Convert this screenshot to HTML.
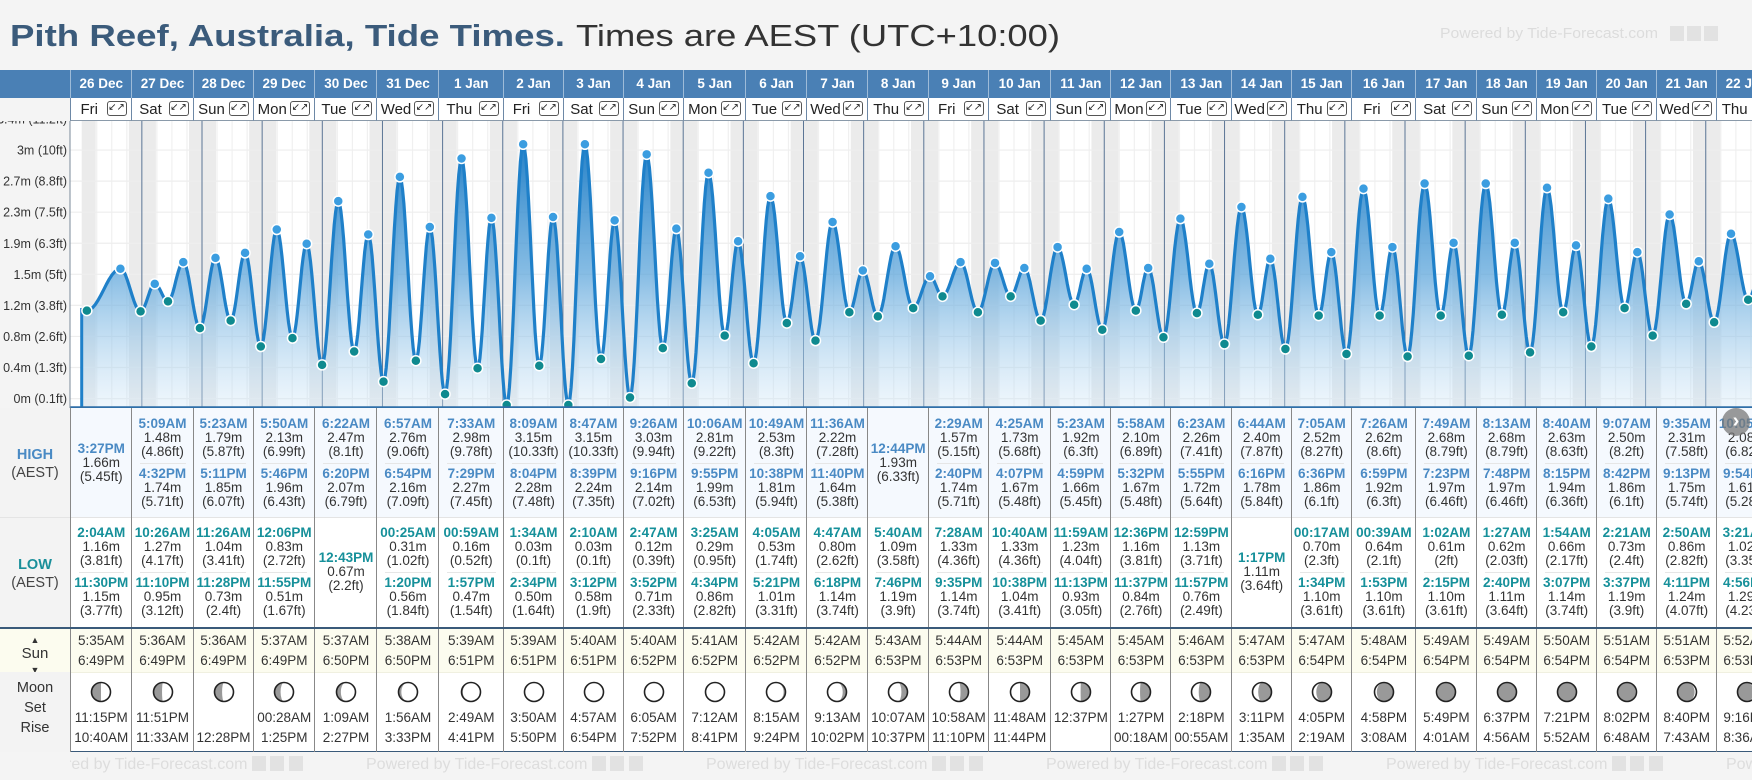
<!DOCTYPE html>
<html><head><meta charset="utf-8">
<style>
html,body{margin:0;padding:0;}
body{width:1752px;height:780px;overflow:hidden;background:#f4f4f4;font-family:"Liberation Sans",Arial,sans-serif;position:relative;}
.abs{position:absolute;}
.cell{position:absolute;box-sizing:border-box;text-align:center;overflow:hidden;}
.t{font-weight:bold;font-size:13.5px;line-height:14px;}
.v{font-size:13.5px;color:#333;line-height:14px;}
</style></head>
<body>
<svg id="top" class="abs" style="left:0;top:0" width="1752" height="780" xmlns="http://www.w3.org/2000/svg">
  <text x="10" y="46" font-size="31" font-weight="bold" fill="#3b5b7b" textLength="555" lengthAdjust="spacingAndGlyphs" font-family="Liberation Sans, sans-serif">Pith Reef, Australia, Tide Times.</text>
  <text x="576" y="46" font-size="31" fill="#333" textLength="484" lengthAdjust="spacingAndGlyphs" font-family="Liberation Sans, sans-serif">Times are AEST (UTC+10:00)</text>
  <g>
    <text x="1440" y="38" font-size="15" fill="#dcdcdc" textLength="218" lengthAdjust="spacingAndGlyphs" font-family="Liberation Sans, sans-serif">Powered by Tide-Forecast.com</text>
    <rect x="1670" y="26" width="14" height="15" fill="#e2e2e2"/><rect x="1687" y="26" width="14" height="15" fill="#e2e2e2"/><rect x="1704" y="26" width="14" height="15" fill="#e2e2e2"/>
  </g>
</svg>
<div id="root" style="position:absolute;left:0;top:0;width:1752px;height:780px;overflow:hidden"></div>
<script>
const dayLabels=["26 Dec","27 Dec","28 Dec","29 Dec","30 Dec","31 Dec","1 Jan","2 Jan","3 Jan","4 Jan","5 Jan","6 Jan","7 Jan","8 Jan","9 Jan","10 Jan","11 Jan","12 Jan","13 Jan","14 Jan","15 Jan","16 Jan","17 Jan","18 Jan","19 Jan","20 Jan","21 Jan","22 Jan"];
const weekdays=["Fri","Sat","Sun","Mon","Tue","Wed","Thu","Fri","Sat","Sun","Mon","Tue","Wed","Thu","Fri","Sat","Sun","Mon","Tue","Wed","Thu","Fri","Sat","Sun","Mon","Tue","Wed","Thu"];
const highTimes=[["3:27PM"],["5:09AM","4:32PM"],["5:23AM","5:11PM"],["5:50AM","5:46PM"],["6:22AM","6:20PM"],["6:57AM","6:54PM"],["7:33AM","7:29PM"],["8:09AM","8:04PM"],["8:47AM","8:39PM"],["9:26AM","9:16PM"],["10:06AM","9:55PM"],["10:49AM","10:38PM"],["11:36AM","11:40PM"],["12:44PM"],["2:29AM","2:40PM"],["4:25AM","4:07PM"],["5:23AM","4:59PM"],["5:58AM","5:32PM"],["6:23AM","5:55PM"],["6:44AM","6:16PM"],["7:05AM","6:36PM"],["7:26AM","6:59PM"],["7:49AM","7:23PM"],["8:13AM","7:48PM"],["8:40AM","8:15PM"],["9:07AM","8:42PM"],["9:35AM","9:13PM"],["10:05AM","9:54PM"]];
const highHeights=[[1.66],[1.48,1.74],[1.79,1.85],[2.13,1.96],[2.47,2.07],[2.76,2.16],[2.98,2.27],[3.15,2.28],[3.15,2.24],[3.03,2.14],[2.81,1.99],[2.53,1.81],[2.22,1.64],[1.93],[1.57,1.74],[1.73,1.67],[1.92,1.66],[2.10,1.67],[2.26,1.72],[2.40,1.78],[2.52,1.86],[2.62,1.92],[2.68,1.97],[2.68,1.97],[2.63,1.94],[2.50,1.86],[2.31,1.75],[2.08,1.61]];
const lowTimes=[["2:04AM","11:30PM"],["10:26AM","11:10PM"],["11:26AM","11:28PM"],["12:06PM","11:55PM"],["12:43PM"],["00:25AM","1:20PM"],["00:59AM","1:57PM"],["1:34AM","2:34PM"],["2:10AM","3:12PM"],["2:47AM","3:52PM"],["3:25AM","4:34PM"],["4:05AM","5:21PM"],["4:47AM","6:18PM"],["5:40AM","7:46PM"],["7:28AM","9:35PM"],["10:40AM","10:38PM"],["11:59AM","11:13PM"],["12:36PM","11:37PM"],["12:59PM","11:57PM"],["1:17PM"],["00:17AM","1:34PM"],["00:39AM","1:53PM"],["1:02AM","2:15PM"],["1:27AM","2:40PM"],["1:54AM","3:07PM"],["2:21AM","3:37PM"],["2:50AM","4:11PM"],["3:21AM","4:56PM"]];
const lowHeights=[[1.16,1.15],[1.27,0.95],[1.04,0.73],[0.83,0.51],[0.67],[0.31,0.56],[0.16,0.47],[0.03,0.50],[0.03,0.58],[0.12,0.71],[0.29,0.86],[0.53,1.01],[0.80,1.14],[1.09,1.19],[1.33,1.14],[1.33,1.04],[1.23,0.93],[1.16,0.84],[1.13,0.76],[1.11],[0.70,1.10],[0.64,1.10],[0.61,1.10],[0.62,1.11],[0.66,1.14],[0.73,1.19],[0.86,1.24],[1.02,1.29]];
const sunrise=["5:35AM","5:36AM","5:36AM","5:37AM","5:37AM","5:38AM","5:39AM","5:39AM","5:40AM","5:40AM","5:41AM","5:42AM","5:42AM","5:43AM","5:44AM","5:44AM","5:45AM","5:45AM","5:46AM","5:47AM","5:47AM","5:48AM","5:49AM","5:49AM","5:50AM","5:51AM","5:51AM","5:52AM"];
const sunset=["6:49PM","6:49PM","6:49PM","6:49PM","6:50PM","6:50PM","6:51PM","6:51PM","6:51PM","6:52PM","6:52PM","6:52PM","6:52PM","6:53PM","6:53PM","6:53PM","6:53PM","6:53PM","6:53PM","6:53PM","6:54PM","6:54PM","6:54PM","6:54PM","6:54PM","6:54PM","6:53PM","6:53PM"];
const moonSet=["11:15PM","11:51PM","","00:28AM","1:09AM","1:56AM","2:49AM","3:50AM","4:57AM","6:05AM","7:12AM","8:15AM","9:13AM","10:07AM","10:58AM","11:48AM","12:37PM","1:27PM","2:18PM","3:11PM","4:05PM","4:58PM","5:49PM","6:37PM","7:21PM","8:02PM","8:40PM","9:16PM"];
const moonRise=["10:40AM","11:33AM","12:28PM","1:25PM","2:27PM","3:33PM","4:41PM","5:50PM","6:54PM","7:52PM","8:41PM","9:24PM","10:02PM","10:37PM","11:10PM","11:44PM","","00:18AM","00:55AM","1:35AM","2:19AM","3:08AM","4:01AM","4:56AM","5:52AM","6:48AM","7:43AM","8:36AM"];
const moonLit=[0.5,0.55,0.6,0.68,0.77,0.85,0.93,0.98,1.0,1.0,0.97,0.9,0.8,0.68,0.58,0.5,0.48,0.45,0.38,0.3,0.2,0.12,0.05,0.0,0.02,0.05,0.1,0.15];
const moonWaxing=[1,1,1,1,1,1,1,1,1,0,0,0,0,0,0,0,0,0,0,0,0,0,0,0,1,1,1,1];
const tickLabels=["0m (0.1ft)","0.4m (1.3ft)","0.8m (2.6ft)","1.2m (3.8ft)","1.5m (5ft)","1.9m (6.3ft)","2.3m (7.5ft)","2.7m (8.8ft)","3m (10ft)","3.4m (11.2ft)"];
const priorHigh={time:-0.13,h:1.25};

const colBounds=[70,130.5,192.5,252.5,314,376,438,502.5,562.5,622.5,682.7,744.7,806.3,866.7,927.7,987.7,1049.7,1110,1170,1230.7,1290.7,1350.7,1415,1475.7,1535.7,1595.7,1655.7,1715.7,1752];
const X0=81.7, DAYW=60.15, PTOP=121, PBOT=407.5;
function xT(t){return X0+t*DAYW;}
function yH(h){return 407.5-83.56*h;}
function yTick(k){return 398.6-k*31.07;}
function parseT(s){const m=s.match(/(\d+):(\d+)(AM|PM)/);let h=+m[1]%12;if(m[3]==="PM")h+=12;return (h+ +m[2]/60)/24;}
function ft(m){return parseFloat((m*3.28084).toFixed(2))+"ft";}

const NS="http://www.w3.org/2000/svg";
const root=document.getElementById('root');
const svg=document.createElementNS(NS,'svg');
svg.setAttribute('width','1752');svg.setAttribute('height','780');
svg.setAttribute('class','abs');svg.style.left='0';svg.style.top='0';


root.appendChild(svg);
function el(tag,attrs,parent){const e=document.createElementNS(NS,tag);for(const k in attrs)e.setAttribute(k,attrs[k]);(parent||svg).appendChild(e);return e;}

el('defs',{}).innerHTML='<linearGradient id="fillg" gradientUnits="userSpaceOnUse" x1="0" y1="140" x2="0" y2="407"><stop offset="0" stop-color="#1b7bc5" stop-opacity="0.97"/><stop offset="0.5" stop-color="#5ea6db" stop-opacity="0.75"/><stop offset="1" stop-color="#cfe6f7" stop-opacity="0.35"/></linearGradient><clipPath id="pc"><rect x="70" y="121" width="1682" height="287"/></clipPath>';

const bg=el('rect',{x:70,y:PTOP,width:1682,height:PBOT-PTOP,fill:'#fff'});


const pg=el('g',{'clip-path':'url(#pc)'});
for(let d=0;d<28;d++){
  const r=parseT(sunrise[d]), s=parseT(sunset[d]);
  const n1=el('rect',{x:xT(d),y:PTOP,width:xT(d+r)-xT(d),height:PBOT-PTOP,fill:'#ebebeb'},pg);
  
  
  const n2=el('rect',{x:xT(d+s),y:PTOP,width:xT(d+1)-xT(d+s),height:PBOT-PTOP,fill:'#ebebeb'},pg);
  
  
}
for(let q=0;q<28*4;q++){ if(q%4===0)continue; el('line',{x1:xT(q/4),x2:xT(q/4),y1:PTOP,y2:PBOT,stroke:'#f0f0f0','stroke-width':1.2},pg);}
for(let k=0;k<10;k++){ el('line',{x1:70,x2:1752,y1:yTick(k),y2:yTick(k),stroke:'#eeeeee','stroke-width':1.2},pg);}
for(let d=1;d<28;d++){
  const ml=el('line',{x1:xT(d),x2:xT(d),y1:PTOP,y2:PBOT,stroke:'#5b7595','stroke-width':1},pg);
  
  
}
const ext=[{t:priorHigh.time,h:priorHigh.h,type:'x'}];
for(let d=0;d<28;d++){
  highTimes[d].forEach((s,i)=>ext.push({t:d+parseT(s),h:highHeights[d][i],type:'H'}));
  lowTimes[d].forEach((s,i)=>ext.push({t:d+parseT(s),h:lowHeights[d][i],type:'L'}));
}
ext.sort((a,b)=>a.t-b.t);
let pts=[];
for(let i=0;i<ext.length-1;i++){
  const a=ext[i],b=ext[i+1];
  for(let j=0;j<12;j++){const f=j/12;const t=a.t+(b.t-a.t)*f;const h=b.h+(a.h-b.h)*(1+Math.cos(Math.PI*f))/2;if(t>=0)pts.push([xT(t),yH(h)]);}
}
const last=ext[ext.length-1];pts.push([xT(last.t),yH(last.h)]);
(function(){const a=ext[0],b=ext[1];const f=(0-a.t)/(b.t-a.t);const h=b.h+(a.h-b.h)*(1+Math.cos(Math.PI*f))/2;pts.unshift([xT(0),yH(h)]);})();
const lineD='M'+pts.map(p=>p[0].toFixed(1)+','+p[1].toFixed(1)).join('L');
const area=el('path',{d:lineD+'L'+pts[pts.length-1][0].toFixed(1)+','+PBOT+'L'+xT(0)+','+PBOT+'Z',fill:'url(#fillg)'},pg);


const line=el('path',{d:lineD,fill:'none',stroke:'#1f80c9','stroke-width':3.2,'stroke-linejoin':'round'},pg);


el('line',{x1:xT(0),x2:xT(0),y1:pts[0][1],y2:PBOT,stroke:'#1f80c9','stroke-width':3},pg);
ext.forEach(e=>{ if(e.type==='x')return;
  const c=el('circle',{cx:xT(e.t),cy:yH(e.h),r:5,fill:e.type==='H'?'#3b9de0':'#0f8a8f',stroke:'#fff','stroke-width':1.5},pg);
  
  
});
el('line',{x1:70,x2:1752,y1:407.5,y2:407.5,stroke:'#2f6fa8','stroke-width':2.5});
el('line',{x1:70,x2:70,y1:PTOP,y2:408,stroke:'#7a8a9a','stroke-width':1});
for(let k=0;k<10;k++){
  const tx=el('text',{x:67,y:yTick(k)+4.5,'text-anchor':'end','font-size':12.5,fill:'#333','font-family':'Liberation Sans, sans-serif'});
  tx.textContent=tickLabels[k];
  
  
}
el('rect',{x:0,y:98,width:70,height:23,fill:'#f4f4f4'});

function div(cls,style,html,name,inter){const d=document.createElement('div');d.className=cls;d.setAttribute('style',style);if(html!==undefined)d.innerHTML=html;root.appendChild(d);return d;}

div('abs','left:0;top:70px;width:1752px;height:28px;background:#4a80b5;','', 'date-header-bar',false);
div('abs','left:0;top:98px;width:70px;height:23px;background:#f4f4f4;','', 'header-spacer',false);
div('cell','left:0;top:408px;width:70px;height:109px;background:#f3f3f3;padding-top:38px;font-size:14.5px;line-height:18px;color:#444;','<b style="color:#4a8ac4">HIGH</b><br>(AEST)','high-row-label',false);
div('cell','left:0;top:517px;width:70px;height:110px;background:#f3f3f3;padding-top:38px;font-size:14.5px;line-height:18px;color:#444;border-top:1px solid #e4e4e4','<b style="color:#1a8f9a">LOW</b><br>(AEST)','low-row-label',false);
div('cell','left:0;top:627px;width:70px;height:45px;background:#fcfcef;padding-top:3px;font-size:14px;line-height:12px;color:#333;border-top:2.5px solid #3a5a7a','<span style="font-size:9px">▲</span><br><span style="font-size:15px;line-height:16px">Sun</span><br><span style="font-size:9px">▼</span>','sun-row-label',false);
div('cell','left:0;top:672px;width:70px;height:80px;background:#f3f3f3;padding-top:6px;font-size:14.5px;line-height:20px;color:#333;','Moon<br>Set<br>Rise','moon-row-label',false);
div('abs','left:70px;top:408px;width:1682px;height:109px;background:#f5f9fe;','','high-row-bg',false);
div('abs','left:70px;top:517px;width:1682px;height:110px;background:#fff;border-top:1px solid #e4e4e4;box-sizing:border-box','','low-row-bg',false);
div('abs','left:70px;top:627px;width:1682px;height:45px;background:#fcfcef;border-top:2.5px solid #3a5a7a;box-sizing:border-box','','sun-row-bg',false);
div('abs','left:70px;top:672px;width:1682px;height:80px;background:#fff;border-top:1px solid #f0f0e0;border-bottom:1.5px solid #3a5a7a;box-sizing:border-box','','moon-row-bg',false);

function entries(times,hs,color,h){
  let out='';const n=times.length;
  const centers=n===1?[h/2-14]:[16,66];
  times.forEach((s,i)=>{
    out+=`<div class="abs" style="left:0;right:0;top:${centers[i]-7}px;white-space:nowrap"><div class="t" style="color:${color}">${s}</div><div class="v">${hs[i].toFixed(2)}m</div><div class="v">(${ft(hs[i])})</div></div>`;
  });
  if(n===2) out+=`<div class="abs" style="left:8px;right:8px;top:55px;border-top:1px solid #e6e6e6"></div>`;
  return out;
}
function moonSvg(f,wax){
  const r=9.5,cx=12,cy=12;
  const k=1-2*f; const rx=Math.abs(k)*r;
  const darkRight=!wax;
  let d;
  if(f<=0.001) d=`M${cx},${cy-r}A${r},${r} 0 1 1 ${cx},${cy+r}A${r},${r} 0 1 1 ${cx},${cy-r}Z`;
  else if(f>=0.999) d='';
  else {
    const outerSweep=darkRight?1:0;
    const innerSweep=(k>0)?(darkRight?1:0):(darkRight?0:1);
    d=`M${cx},${cy-r}A${r},${r} 0 0 ${outerSweep} ${cx},${cy+r}A${rx.toFixed(2)},${r} 0 0 ${innerSweep} ${cx},${cy-r}Z`;
  }
  return `<svg width="24" height="24"><circle cx="12" cy="12" r="${r}" fill="#fff"/>${d?`<path d="${d}" fill="#999"/>`:''}<circle cx="12" cy="12" r="${r}" fill="none" stroke="#222" stroke-width="1.6"/></svg>`;
}
for(let d=0;d<28;d++){
  const x=colBounds[d], w=colBounds[d+1]-colBounds[d], fw=(d===27?60:w);
  div('cell',`left:${x}px;top:70px;width:${w}px;height:28px;line-height:28px;color:#fff;font-weight:bold;font-size:13.5px;border-left:1px solid #9dbbd8;white-space:nowrap;text-align:left`,`<span class="abs" style="left:0;width:${fw}px;text-align:center">${dayLabels[d]}</span>`,'date-label',false);
  div('cell',`left:${x}px;top:98px;width:${w}px;height:23px;background:#fff;border-left:1px solid #6d88a6;border-bottom:1px solid #8a9aaa`,
    `<span class="abs" style="left:0;width:${fw-24}px;top:2px;font-size:15px;color:#222;line-height:19px">${weekdays[d]}</span>`+
    (d<27?`<span class="abs" style="left:${w-25}px;top:3px;width:20px;height:15px;border:1px solid #555;border-radius:3px;box-sizing:border-box;font-size:10px;line-height:12px;color:#222">&#8601;&#8599;</span>`:''),
    'weekday-cell',false);
  const inner=(html)=>`<div class="abs" style="left:0;top:0;width:${fw}px;height:100%">${html}</div>`;
  div('cell',`left:${x}px;top:408px;width:${w}px;height:109px;border-left:1px solid #888;`,inner(entries(highTimes[d],highHeights[d],'#4a8ac4',109)),'high-tide-cell',false);
  div('cell',`left:${x}px;top:517px;width:${w}px;height:110px;border-left:1px solid #888;`,inner(entries(lowTimes[d],lowHeights[d],'#16909a',110)),'low-tide-cell',false);
  div('cell',`left:${x}px;top:629px;width:${w}px;height:43px;border-left:1px solid #888;font-size:13.5px;color:#333;line-height:20px;`,inner('<div style="padding-top:2px">'+sunrise[d]+'<br>'+sunset[d]+'</div>'),'sun-cell',false);
  div('cell',`left:${x}px;top:672px;width:${w}px;height:80px;border-left:1px solid #888;font-size:13.5px;color:#333;line-height:20px;`,
    inner('<div style="padding-top:8px">'+moonSvg(moonLit[d],moonWaxing[d])+`<div style="margin-top:-2px">${moonSet[d]||'&nbsp;'}</div><div>${moonRise[d]||'&nbsp;'}</div></div>`),'moon-cell',false);
}
const foot=div('abs','left:0;top:752px;width:1752px;height:28px;overflow:hidden;','','footer-row',false);
for(let k=0;k<6;k++){
  const x0=26+k*340;
  const f=document.createElement('div');
  f.className='abs';
  f.setAttribute('style',`left:${x0}px;top:4px;width:${Math.min(300,1752-x0)}px;height:22px;overflow:hidden;font-size:16px;color:#dddddd;white-space:nowrap;`);
  f.innerHTML='Powered by Tide-Forecast.com <span style="display:inline-block;width:14px;height:15px;background:#e2e2e2;vertical-align:-2px"></span> <span style="display:inline-block;width:14px;height:15px;background:#e2e2e2;vertical-align:-2px"></span> <span style="display:inline-block;width:14px;height:15px;background:#e2e2e2;vertical-align:-2px"></span>';
  
  
  foot.appendChild(f);
}
div('abs','left:0;top:752px;width:70px;height:28px;background:#f4f4f4;','','footer-spacer',false);
div('abs','left:1722px;top:408px;width:28px;height:28px;border-radius:14px;background:rgba(120,120,120,0.75);color:#fff;font-size:20px;line-height:26px;text-align:center;font-weight:bold','&#8250;','scroll-right-button',true);
</script>
</body></html>
